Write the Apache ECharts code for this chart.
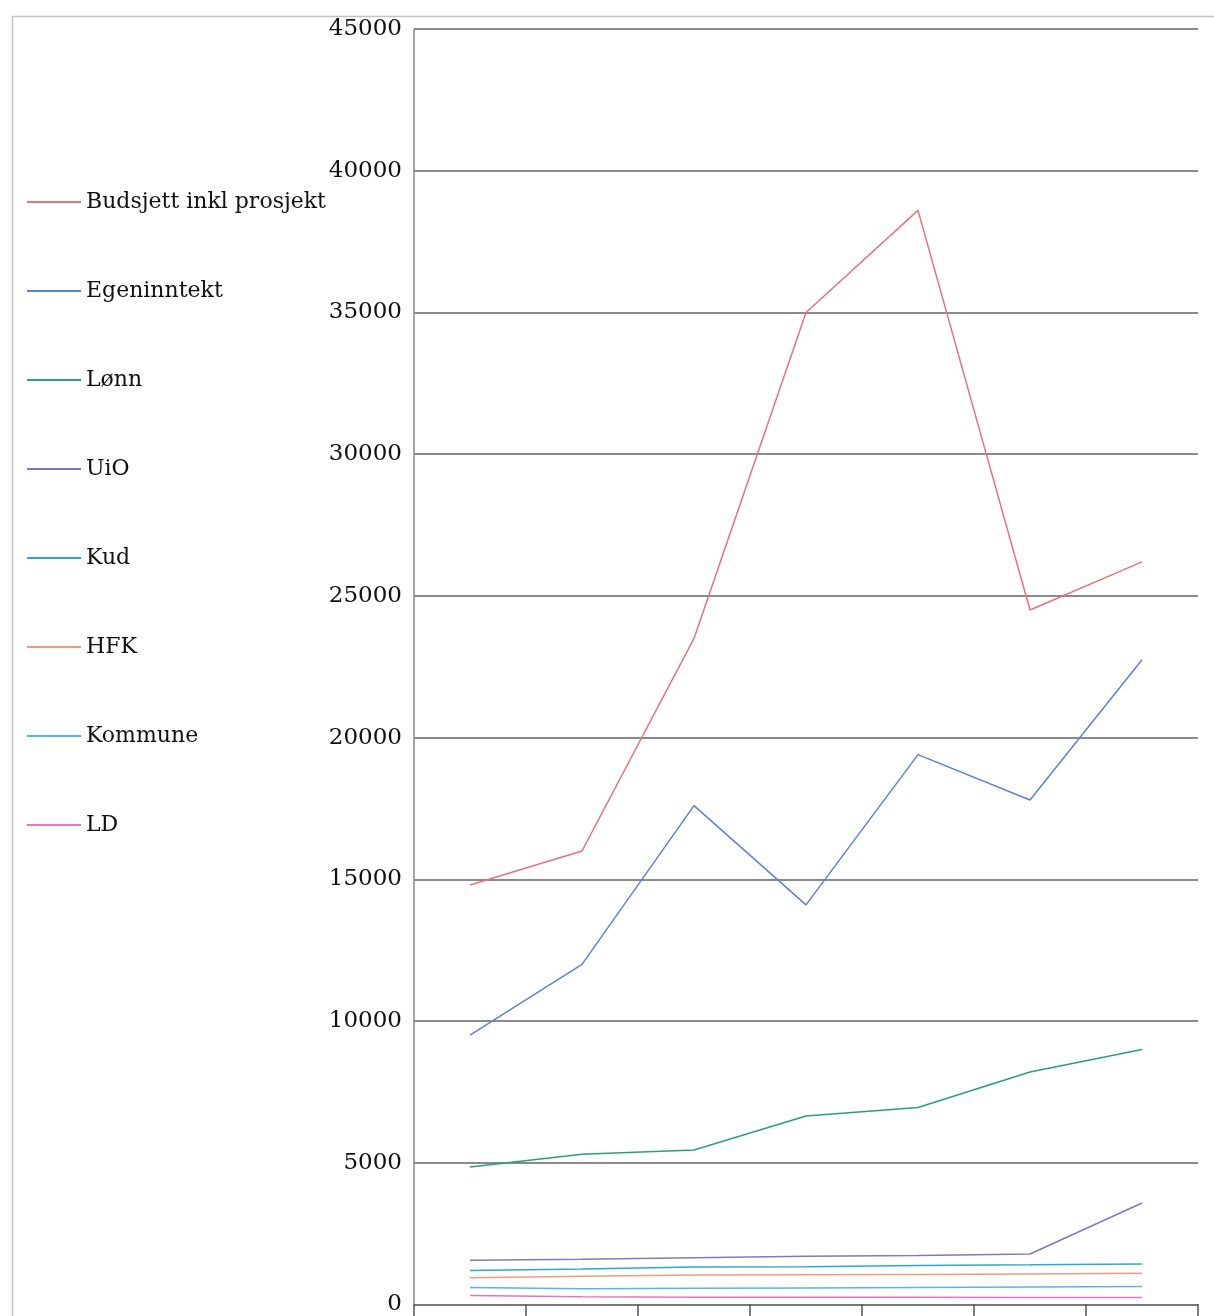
<!DOCTYPE html>
<html>
<head>
<meta charset="utf-8">
<script src="https://cdn.jsdelivr.net/npm/echarts@6/dist/echarts.min.js"></script>
<style>
html,body{margin:0;padding:0;background:#fff;}
#chart{width:1214px;height:1316px;}
</style>
</head>
<body>
<div id="chart"></div>
<script>
const categories = ['1', '2', '3', '4', '5', '6', '7'];
const seriesNames = ['Budsjett inkl prosjekt', 'Egeninntekt', 'Lønn', 'UiO', 'Kud', 'HFK', 'Kommune', 'LD'];
const budsjett   = [14800, 16000, 23500, 35000, 38600, 24500, 26200];
const egeninntekt= [9500, 12000, 17600, 14100, 19400, 17800, 22750];
const lonn       = [4850, 5300, 5450, 6650, 6950, 8200, 9000];
const uio        = [1560, 1600, 1650, 1700, 1730, 1780, 3580];
const kud        = [1200, 1250, 1320, 1330, 1380, 1400, 1430];
const hfk        = [940, 1000, 1040, 1050, 1060, 1080, 1100];
const kommune    = [600, 560, 575, 580, 600, 620, 635];
const ld         = [320, 270, 260, 260, 255, 250, 250];
const yTicks     = [0, 5000, 10000, 15000, 20000, 25000, 30000, 35000, 40000, 45000];

const colors = ['#e8727c', '#5f80d4', '#27a079', '#8576bd', '#2aa7d6', '#f29a80', '#5ab4e6', '#e475c4'];
const dataSets = [budsjett, egeninntekt, lonn, uio, kud, hfk, kommune, ld];

const chart = echarts.init(document.getElementById('chart'));
const font = 'DejaVu Serif';
chart.setOption({
  backgroundColor: '#fff',
  animation: false,
  color: colors,
  graphic: [{
    type: 'rect', left: 10, top: 14,
    shape: { width: 1300, height: 1400 },
    style: { fill: 'none', stroke: '#c4c4c4', lineWidth: 1.5 },
    silent: true
  }],
  legend: {
    orient: 'vertical', left: 22, top: 182,
    itemWidth: 54, itemHeight: 2, itemGap: 59,
    icon: 'rect',
    textStyle: { fontFamily: font, fontSize: 22, color: '#111', lineHeight: 30, padding: [0,0,0,0] },
    data: seriesNames
  },
  grid: { left: 414, right: 16, top: 29, bottom: 11, containLabel: false },
  xAxis: {
    type: 'category', data: categories, boundaryGap: true,
    axisLine: { lineStyle: { color: '#777', width: 2 } },
    axisTick: { show: true, length: 20, lineStyle: { color: '#555', width: 1.5 } },
    axisLabel: { show: false }
  },
  yAxis: {
    type: 'value', min: 0, max: 45000, interval: 5000,
    axisLine: { show: true, lineStyle: { color: '#888', width: 1.5 } },
    axisTick: { show: false },
    axisLabel: { fontFamily: font, fontSize: 23, color: '#111', margin: 12,
      formatter: v => yTicks.includes(v) ? String(v) : '' },
    splitLine: { lineStyle: { color: '#8a8a8a', width: 2 } }
  },
  series: seriesNames.map((n, i) => ({
    name: n, type: 'line', data: dataSets[i], symbol: 'none',
    lineStyle: { width: 1.5, color: colors[i] },
    itemStyle: { color: colors[i] }
  }))
});
</script>
</body>
</html>
